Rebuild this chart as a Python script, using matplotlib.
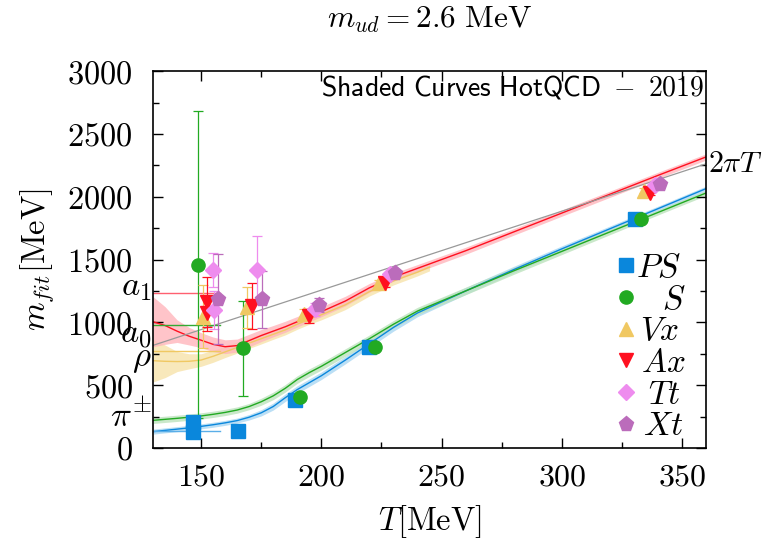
import matplotlib
matplotlib.use('Agg')
import matplotlib.pyplot as plt
import numpy as np

plt.rcParams['mathtext.fontset'] = 'cm'

# lattice points  (T, m, err)
ps_T = [146.8, 146.8, 165.5, 188.9, 220.0, 330.3]
ps_m = [205, 125, 138, 382, 801, 1822]
ps_err = [8, 8, 8, 8, 8, 8]

s_T = [148.9, 167.4, 191.0, 222.5, 333.0]
s_m = [1460, 793, 408, 801, 1822]
s_err = [1220, 380, 10, 10, 10]

vx_T = [150.8, 169.0, 192.6, 223.9, 334.3]
vx_m = [1045, 1119, 1066, 1315, 2047]
vx_err = [250, 165, 40, 25, 20]

ax_T = [152.5, 152.5, 171.1, 195.0, 226.4, 336.7]
ax_m = [1164, 1071, 1130, 1050, 1310, 2031]
ax_err = [200, 140, 185, 53, 25, 20]

tt_T = [154.9, 155.3, 173.2, 197.2, 228.5, 338.7]
tt_m = [1416, 1098, 1416, 1103, 1384, 2092]
tt_err = [138, 150, 273, 50, 20, 20]

xt_T = [157.0, 175.3, 199.2, 230.5, 340.8]
xt_m = [1185, 1183, 1138, 1390, 2098]
xt_err = [360, 227, 53, 20, 20]

# HotQCD shaded curves
T_fit = [130, 135, 140, 145, 150, 155, 160, 165, 170, 175, 180, 185, 190, 195,
         200, 210, 220, 230, 240, 260, 280, 300, 320, 340, 360]
ax_fit = [1005, 975, 930, 890, 858, 825, 806, 815, 855, 895, 930, 965, 1005, 1045,
          1085, 1170, 1275, 1360, 1430, 1570, 1720, 1870, 2020, 2170, 2317]
ax_band = [200, 150, 90, 70, 60, 58, 55, 52, 50, 48, 45, 44, 42, 41,
           40, 38, 35, 32, 30, 28, 26, 25, 25, 25, 25]

T_vx = [130, 135, 140, 145, 150, 155, 160, 165, 170, 175, 180, 185, 190, 195,
        200, 210, 220, 230, 240, 245]
vx_fit = [695, 690, 688, 690, 700, 730, 765, 800, 835, 870, 905, 940, 985, 1025,
          1060, 1140, 1245, 1330, 1400, 1440]
vx_band = [170, 130, 80, 60, 50, 48, 45, 45, 42, 42, 40, 40, 40, 40,
           40, 38, 35, 32, 30, 30]

s_fit = [220, 228, 236, 245, 255, 268, 283, 302, 330, 368, 415, 475, 545, 600,
         650, 760, 870, 985, 1090, 1250, 1410, 1565, 1720, 1875, 2030]
s_band = [25, 25, 25, 25, 25, 25, 25, 25, 25, 28, 30, 30, 30, 30,
          30, 30, 30, 30, 30, 30, 28, 25, 22, 20, 20]

ps_fit = [130, 140, 150, 160, 172, 185, 200, 218, 245, 280, 330, 400, 465, 520,
          575, 700, 830, 960, 1075, 1250, 1420, 1585, 1745, 1905, 2065]
ps_band = [20, 20, 20, 20, 20, 20, 20, 20, 22, 25, 28, 30, 30, 30,
           30, 30, 30, 30, 30, 28, 26, 24, 22, 20, 20]

# vacuum masses
vac_names = [r'$a_1$', r'$a_0$', r'$\rho$', r'$\pi^{\pm}$']
vac_m = [1230, 980, 775, 138]
vac_lab_y = [1290, 905, 715, 245]

c_ps = '#0a87dc'
c_s = '#22aa22'
c_vx = '#f0c862'
c_ax = '#ff1020'
c_tt = '#ee8cee'
c_xt = '#bb6cbb'

fig = plt.figure(figsize=(7.65, 5.43), dpi=100)
ax = fig.add_axes([0.2, 0.175, 0.723, 0.694])

T_fit = np.array(T_fit)
T_vx = np.array(T_vx)
ax.fill_between(T_fit, np.array(ps_fit) - ps_band, np.array(ps_fit) + ps_band,
                color='#b4dcf4', lw=0, alpha=0.9)
ax.fill_between(T_fit, np.array(s_fit) - s_band, np.array(s_fit) + s_band,
                color='#bde3bd', lw=0, alpha=0.8)
ax.fill_between(T_vx, np.array(vx_fit) - vx_band, np.array(vx_fit) + vx_band,
                color='#f8e6b4', lw=0, alpha=0.9)
ax.fill_between(T_fit, np.array(ax_fit) - ax_band, np.array(ax_fit) + ax_band,
                color='#ffb6bc', lw=0, alpha=0.8)

ax.plot(T_fit, ps_fit, color=c_ps, lw=1.0)
ax.plot(T_fit, s_fit, color=c_s, lw=1.0)
ax.plot(T_vx, vx_fit, color=c_vx, lw=1.0)
ax.plot(T_fit, ax_fit, color=c_ax, lw=1.0)

# 2 pi T
Tl = np.array([130, 360])
ax.plot(Tl, 2 * np.pi * Tl, color='#999999', lw=0.9)
ax.text(361, 2 * np.pi * 360, r'$2\pi T$', fontsize=21.5, ha='left', va='center', clip_on=False)

# vacuum lines
vac_cols = ['#ff6070', '#33aa33', '#f0c862', '#5aaee8']
for m, c in zip(vac_m, vac_cols):
    ax.plot([130, 158], [m, m], color=c, lw=1.0)
for name, y in zip(vac_names, vac_lab_y):
    ax.text(129.3, y, name, fontsize=25, ha='right', va='center', clip_on=False)

ekw = dict(fmt='none', elinewidth=0.9, capsize=3.5, capthick=0.9)
ax.errorbar(ps_T, ps_m, yerr=ps_err, ecolor=c_ps, **ekw)
ax.errorbar(s_T, s_m, yerr=s_err, ecolor=c_s, **ekw)
ax.errorbar(vx_T, vx_m, yerr=vx_err, ecolor=c_vx, **ekw)
ax.errorbar(ax_T, ax_m, yerr=ax_err, ecolor=c_ax, **ekw)
ax.errorbar(tt_T, tt_m, yerr=tt_err, ecolor=c_tt, **ekw)
ax.errorbar(xt_T, xt_m, yerr=xt_err, ecolor=c_xt, **ekw)

ax.plot(ps_T, ps_m, 's', color=c_ps, ms=9.5, label=r'$PS$')
ax.plot(s_T, s_m, 'o', color=c_s, ms=9.5, label=r'$\hspace{0.9}S$')
ax.plot(vx_T, vx_m, '^', color=c_vx, ms=9.5, label=r'$\hspace{0.15}Vx$')
ax.plot(ax_T, ax_m, 'v', color=c_ax, ms=9.5, label=r'$\hspace{0.2}Ax$')
ax.plot(tt_T, tt_m, 'D', color=c_tt, ms=8, label=r'$\hspace{0.42}Tt$')
ax.plot(xt_T, xt_m, 'p', color=c_xt, ms=11, label=r'$\hspace{0.25}Xt$')

leg = ax.legend(loc='lower right', fontsize=24, frameon=False, handlelength=0.5,
                handletextpad=0.05, labelspacing=-0.04, borderaxespad=0.0,
                bbox_to_anchor=(0.988, -0.02))

ax.set_xlim(130, 360)
ax.set_ylim(0, 3000)
xt = [150, 200, 250, 300, 350]
yt = [0, 500, 1000, 1500, 2000, 2500, 3000]
ax.set_xticks(xt)
ax.set_xticklabels(['$%d$' % v for v in xt], fontsize=23)
ax.set_yticks(yt)
ax.set_yticklabels(['$%d$' % v for v in yt], fontsize=23.3)
ax.set_xticks(np.arange(175, 360, 50), minor=True)
ax.set_yticks(np.arange(250, 3000, 500), minor=True)
ax.tick_params(which='both', direction='in', top=True, right=True, width=1.0)
ax.tick_params(which='major', length=7)
ax.tick_params(which='minor', length=4)
ax.tick_params(axis='y', pad=14.5)
ax.tick_params(axis='x', pad=10)
for sp in ax.spines.values():
    sp.set_linewidth(1.2)

ax.set_xlabel(r'$T[\mathrm{MeV}]$', fontsize=23.5, labelpad=7)
ax.set_ylabel(r'$m_{fit}[\mathrm{MeV}]$', fontsize=23.5, labelpad=8)
ax.set_title(r'$m_{ud} = 2.6\ \mathrm{MeV}$', fontsize=22.5, pad=31)
ax.text(0.997, 0.993, r'$\mathsf{Shaded\ Curves\ HotQCD\ -\ 2019}$', transform=ax.transAxes,
        fontsize=20, ha='right', va='top')

plt.savefig('out.png', dpi=100)
